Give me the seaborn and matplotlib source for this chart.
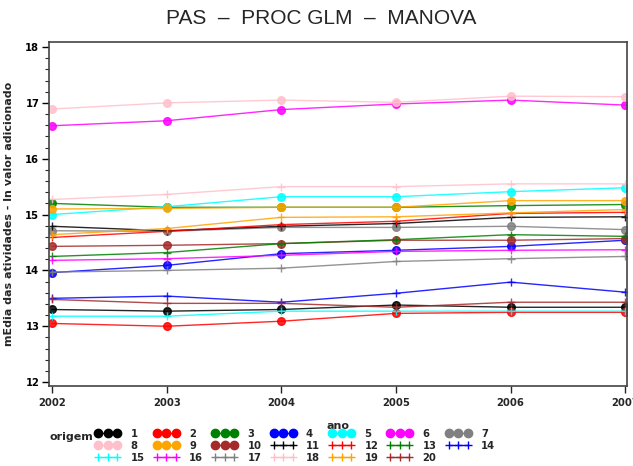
import matplotlib
matplotlib.use("Agg")
import matplotlib.pyplot as plt
import seaborn as sns
import pandas as pd
from matplotlib.lines import Line2D
from matplotlib.ticker import MultipleLocator

anos = [2002, 2003, 2004, 2005, 2006, 2007]

s1 = [13.30, 13.27, 13.30, 13.38, 13.34, 13.34]
s2 = [13.05, 13.00, 13.09, 13.23, 13.25, 13.25]
s3 = [15.20, 15.13, 15.13, 15.13, 15.16, 15.18]
s4 = [13.96, 14.09, 14.30, 14.36, 14.43, 14.54]
s5 = [15.00, 15.14, 15.32, 15.32, 15.41, 15.48]
s6 = [16.59, 16.68, 16.88, 16.98, 17.05, 16.96]
s7 = [14.71, 14.70, 14.77, 14.77, 14.79, 14.73]
s8 = [16.89, 17.00, 17.05, 17.01, 17.12, 17.11]
s9 = [15.10, 15.11, 15.13, 15.13, 15.25, 15.25]
s10 = [14.43, 14.45, 14.48, 14.54, 14.54, 14.57]
s11 = [14.79, 14.71, 14.79, 14.84, 14.95, 14.96]
s12 = [14.59, 14.70, 14.82, 14.88, 15.02, 15.04]
s13 = [14.25, 14.32, 14.48, 14.55, 14.64, 14.61]
s14 = [13.50, 13.54, 13.43, 13.59, 13.79, 13.61]
s15 = [13.18, 13.18, 13.27, 13.27, 13.27, 13.27]
s16 = [14.18, 14.21, 14.27, 14.34, 14.36, 14.37]
s17 = [13.97, 14.00, 14.04, 14.16, 14.21, 14.25]
s18 = [15.27, 15.36, 15.50, 15.50, 15.55, 15.55]
s19 = [14.64, 14.75, 14.95, 14.96, 15.03, 15.09]
s20 = [13.48, 13.41, 13.41, 13.34, 13.43, 13.43]

series = [s1, s2, s3, s4, s5, s6, s7, s8, s9, s10,
          s11, s12, s13, s14, s15, s16, s17, s18, s19, s20]
origens = [str(i) for i in range(1, 21)]

base_colors = ["black", "red", "#008000", "blue", "cyan", "magenta",
               "gray", "pink", "orange", "brown"]
colors = base_colors + base_colors
markers = ["o"] * 10 + ["+"] * 10

rows = []
for o, vals in zip(origens, series):
    for a, v in zip(anos, vals):
        rows.append({"origem": o, "ano": a, "valor": v})
df = pd.DataFrame(rows)

palette = dict(zip(origens, colors))

sns.set_style("white")
plt.rcParams["font.family"] = ["DejaVu Sans"]

fig = plt.figure(figsize=(6.33, 4.66), dpi=100)
ax = fig.add_axes([49/633, 1 - 386/466, (627-49)/633, (386-42)/466])

for group, mk in ((origens[:10], "o"), (origens[10:], "+")):
    sub = df[df["origem"].isin(group)]
    sns.lineplot(data=sub, x="ano", y="valor", hue="origem",
                 hue_order=group, palette={g: palette[g] for g in group},
                 marker=mk, linewidth=1.0, markersize=5.5,
                 markeredgewidth=1.0, markeredgecolor=None,
                 legend=False, ax=ax, alpha=0.85)

ax.set_xlim(2001.974, 2007.015)
ax.set_ylim(11.93, 18.09)
ax.set_xticks(anos)
ax.set_xticklabels([str(a) for a in anos])
ax.yaxis.set_major_locator(MultipleLocator(1))
ax.yaxis.set_minor_locator(MultipleLocator(0.2))
ax.tick_params(axis="y", which="major", direction="out", length=5, width=1,
               left=True, labelsize=8, colors="black", pad=2)
ax.tick_params(axis="y", which="minor", direction="out", length=3, width=0.8,
               left=True)
ax.tick_params(axis="x", which="major", direction="out", length=5, width=1,
               bottom=True, labelsize=8, pad=4)
for lbl in ax.get_xticklabels() + ax.get_yticklabels():
    lbl.set_fontweight("bold")
    lbl.set_fontstretch("condensed")
for sp in ax.spines.values():
    sp.set_color("#444444")
    sp.set_linewidth(1.2)
    sp.set_visible(True)

ax.set_xlabel("ano", fontsize=8, fontweight="bold", labelpad=9)
ax.set_ylabel("mEdia das atividades - ln valor adicionado", fontsize=8,
              fontweight="bold", labelpad=8)

fig.text(0.508, 1 - 19/466, "PAS  \u2013  PROC GLM  \u2013  MANOVA",
         ha="center", va="center", fontsize=15,
         family=["Liberation Sans", "DejaVu Sans"])

handles = {}
for o, c, m in zip(origens, colors, markers):
    handles[o] = Line2D([], [], color=c, marker=m, linewidth=1.0,
                        markersize=6, markeredgewidth=1.0)
order = []
for col in range(7):
    for r in range(3):
        idx = r * 7 + col
        if idx < 20:
            order.append(origens[idx])
leg = fig.legend([handles[o] for o in order], order, ncol=7,
                 loc="upper left", bbox_to_anchor=(95/633, 1 - 429/466),
                 frameon=False, numpoints=3, handlelength=2.3,
                 handletextpad=0.9, columnspacing=0.8, labelspacing=0.18,
                 prop={"size": 8, "weight": "bold", "stretch": "condensed"},
                 borderpad=0, borderaxespad=0)
fig.text(50/633, 1 - 437/466, "origem", fontsize=8, fontweight="bold",
         ha="left", va="center")

fig.savefig("out.png", dpi=100)
